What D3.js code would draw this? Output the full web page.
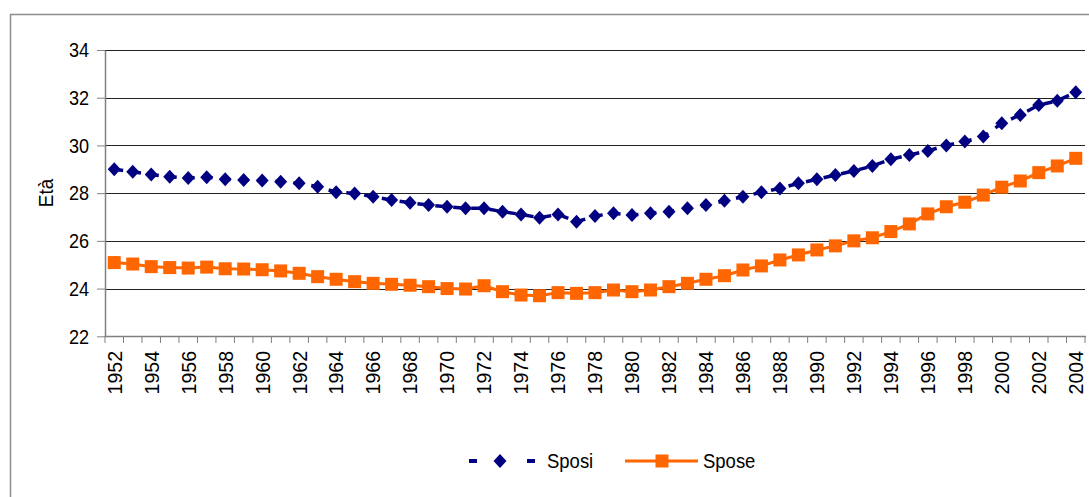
<!DOCTYPE html>
<html>
<head>
<meta charset="utf-8">
<script src="https://cdn.jsdelivr.net/npm/d3@7"></script>
<style>
    html, body { margin: 0; padding: 0; background: #fff; }
    svg { display: block; }
    text { font-family: "Liberation Sans", Arial, sans-serif; fill: #000; }
</style>
</head>
<body>
<div id="chart"></div>
<script>
// categories: years of the marriages
var years = [1952, 1953, 1954, 1955, 1956, 1957, 1958, 1959, 1960, 1961,
             1962, 1963, 1964, 1965, 1966, 1967, 1968, 1969, 1970, 1971,
             1972, 1973, 1974, 1975, 1976, 1977, 1978, 1979, 1980, 1981,
             1982, 1983, 1984, 1985, 1986, 1987, 1988, 1989, 1990, 1991,
             1992, 1993, 1994, 1995, 1996, 1997, 1998, 1999, 2000, 2001,
             2002, 2003, 2004];

// average age of grooms (Sposi)
var sposi = [29.0, 28.9, 28.78, 28.69, 28.63, 28.67, 28.58, 28.55, 28.53, 28.48,
             28.41, 28.27, 28.04, 27.99, 27.85, 27.71, 27.6, 27.5, 27.43, 27.37,
             27.37, 27.22, 27.11, 26.97, 27.11, 26.8, 27.04, 27.16, 27.08, 27.16,
             27.22, 27.37, 27.5, 27.68, 27.85, 28.04, 28.2, 28.41, 28.58, 28.76,
             28.93, 29.14, 29.42, 29.6, 29.77, 30.0, 30.16, 30.37, 30.93, 31.28,
             31.69, 31.87, 32.23];

// average age of brides (Spose)
var spose = [25.09, 25.03, 24.92, 24.88, 24.86, 24.9, 24.83, 24.82, 24.79, 24.74,
             24.64, 24.5, 24.39, 24.29, 24.22, 24.18, 24.14, 24.08, 24.0, 23.98,
             24.12, 23.87, 23.73, 23.7, 23.83, 23.8, 23.83, 23.94, 23.87, 23.94,
             24.08, 24.22, 24.39, 24.54, 24.78, 24.95, 25.2, 25.41, 25.62, 25.79,
             26.0, 26.13, 26.39, 26.71, 27.13, 27.43, 27.62, 27.92, 28.25, 28.51,
             28.86, 29.14, 29.46];

var yTicks = [22, 24, 26, 28, 30, 32, 34];
var xTickLabels = years.filter(function(d) { return d % 2 === 0; });

var W = 1089, H = 497;
var NAVY = "#000080", ORANGE = "#FF6600";
var FS = 21;

// squeeze text a bit, the original font is a narrow one
function narrow(sel, k) {
    sel.each(function() {
        var len = this.getComputedTextLength();
        d3.select(this)
            .attr("textLength", len * k)
            .attr("lengthAdjust", "spacingAndGlyphs");
    });
}

var svg = d3.select("#chart").append("svg")
    .attr("width", W)
    .attr("height", H);

// outer chart frame (runs off the right and bottom edges)
svg.append("rect")
    .attr("x", 10.5).attr("y", 14.5)
    .attr("width", 1200).attr("height", 600)
    .attr("fill", "none")
    .attr("stroke", "#8c8c8c")
    .attr("stroke-width", 1.5);

var x = d3.scaleBand().domain(years).range([105, 1085]);
var y = d3.scaleLinear().domain([22, 34]).range([336.3, 50]);
var cx = function(d, i) { return x(years[i]) + x.bandwidth() / 2; };

// horizontal gridlines
svg.append("g").selectAll("line").data(yTicks.slice(1))
    .enter().append("line")
    .attr("x1", 105).attr("x2", 1085)
    .attr("y1", function(d) { return Math.round(y(d)) + 0.5; })
    .attr("y2", function(d) { return Math.round(y(d)) + 0.5; })
    .attr("stroke", "#222")
    .attr("stroke-width", 1);

// y axis
var yAxis = svg.append("g")
    .attr("transform", "translate(105,0)")
    .call(d3.axisLeft(y).tickValues(yTicks).tickSize(8).tickPadding(8).tickSizeOuter(0));
yAxis.attr("font-family", null).attr("font-size", null);
yAxis.select(".domain").attr("stroke", "#808080").attr("stroke-width", 1.5);
yAxis.selectAll(".tick line").attr("stroke", "#808080");
yAxis.selectAll(".tick text")
    .attr("font-size", FS)
    .attr("fill", "#000")
    .call(narrow, 0.86);

// y title
svg.append("text")
    .attr("transform", "translate(53,193) rotate(-90)")
    .attr("text-anchor", "middle")
    .attr("font-size", FS)
    .text("Età")
    .call(narrow, 0.9);

// x axis line
svg.append("line")
    .attr("x1", 105).attr("x2", 1086)
    .attr("y1", 336.5).attr("y2", 336.5)
    .attr("stroke", "#808080")
    .attr("stroke-width", 1.5);

// x tick marks between categories
svg.append("g").selectAll("line").data(d3.range(years.length + 1))
    .enter().append("line")
    .attr("x1", function(i) { return x.range()[0] + i * x.step(); })
    .attr("x2", function(i) { return x.range()[0] + i * x.step(); })
    .attr("y1", 336).attr("y2", 343)
    .attr("stroke", "#808080");

// x tick labels (even years)
svg.append("g").selectAll("text").data(xTickLabels)
    .enter().append("text")
    .attr("transform", function(d) {
        return "translate(" + (x(d) + x.bandwidth() / 2) + ",351) rotate(-90)";
    })
    .attr("text-anchor", "end")
    .attr("dy", "0.35em")
    .attr("font-size", FS)
    .text(function(d) { return d; })
    .call(narrow, 0.93);

// Sposi: dashed navy line with diamonds
var lineSposi = d3.line().x(cx).y(function(d) { return y(d); });
svg.append("path")
    .datum(sposi)
    .attr("d", lineSposi)
    .attr("fill", "none")
    .attr("stroke", NAVY)
    .attr("stroke-width", 3.5)
    .attr("stroke-dasharray", "9,9");

var diamond = "M0,-7L6.5,0L0,7L-6.5,0Z";
svg.append("g").selectAll("path").data(sposi)
    .enter().append("path")
    .attr("d", diamond)
    .attr("transform", function(d, i) { return "translate(" + cx(d, i) + "," + y(d) + ")"; })
    .attr("fill", NAVY);

// Spose: solid orange line with squares
var lineSpose = d3.line().x(cx).y(function(d) { return y(d); });
svg.append("path")
    .datum(spose)
    .attr("d", lineSpose)
    .attr("fill", "none")
    .attr("stroke", ORANGE)
    .attr("stroke-width", 3);

svg.append("g").selectAll("rect").data(spose)
    .enter().append("rect")
    .attr("x", function(d, i) { return cx(d, i) - 6.5; })
    .attr("y", function(d) { return y(d) - 6.5; })
    .attr("width", 13).attr("height", 13)
    .attr("fill", ORANGE);

// legend
var legend = svg.append("g").attr("transform", "translate(0,461)");
legend.append("line")
    .attr("x1", 469).attr("x2", 535)
    .attr("y1", 0).attr("y2", 0)
    .attr("stroke", NAVY)
    .attr("stroke-width", 4)
    .attr("stroke-dasharray", "8,50");
legend.append("path")
    .attr("d", diamond)
    .attr("transform", "translate(500,0)")
    .attr("fill", NAVY);
legend.append("text")
    .attr("x", 547).attr("y", 0)
    .attr("dy", "0.35em")
    .attr("font-size", FS)
    .text("Sposi")
    .call(narrow, 0.88);

legend.append("line")
    .attr("x1", 625).attr("x2", 698)
    .attr("y1", 0).attr("y2", 0)
    .attr("stroke", ORANGE)
    .attr("stroke-width", 3);
legend.append("rect")
    .attr("x", 655.5).attr("y", -6.5)
    .attr("width", 13).attr("height", 13)
    .attr("fill", ORANGE);
legend.append("text")
    .attr("x", 703).attr("y", 0)
    .attr("dy", "0.35em")
    .attr("font-size", FS)
    .text("Spose")
    .call(narrow, 0.88);
</script>
</body>
</html>
